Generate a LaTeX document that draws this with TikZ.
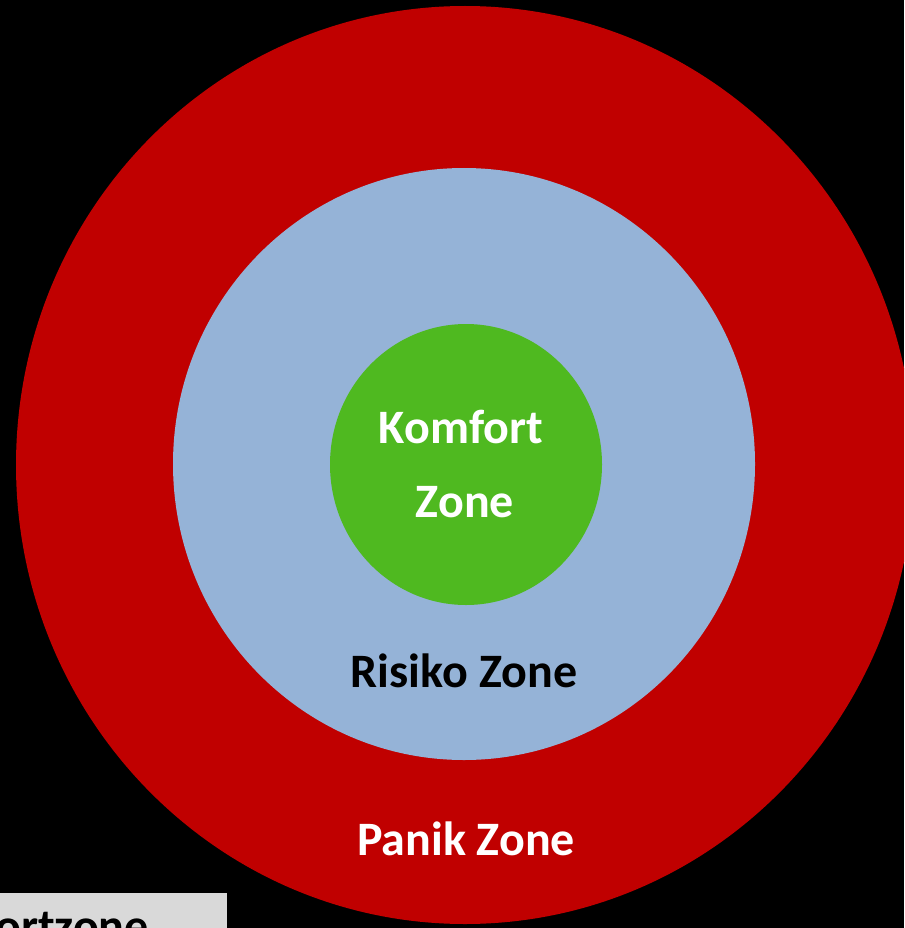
\documentclass[tikz,border=0pt]{standalone}
\usepackage{fontspec}
\setmainfont{Carlito}
\definecolor{panikred}{HTML}{C00000}
\definecolor{risikoblue}{HTML}{95B3D7}
\definecolor{komfortgreen}{HTML}{4FB920}
\definecolor{boxgrey}{HTML}{D9D9D9}
\tikzset{
  zonelabel/.style={font=\bfseries\fontsize{48}{52}\selectfont, inner sep=0pt, anchor=base},
}
\begin{document}
\begin{tikzpicture}[x=1pt,y=-1pt]
\useasboundingbox (0,0) rectangle (904,928);
\clip (0,0) rectangle (904,928);
\fill[black] (0,0) rectangle (904,928);
\fill[panikred] (465,465) ellipse [x radius=449, y radius=459];
\fill[risikoblue] (464,464) ellipse [x radius=291, y radius=296];
\fill[komfortgreen] (466,464.5) ellipse [x radius=136, y radius=140.5];
\node[zonelabel, white] (komfort) at (461,443) {Komfort};
\node[zonelabel, white] (zone) at (465,517) {Zone};
\node[zonelabel, black] (risiko) at (464,687) {Risiko Zone};
\node[zonelabel, white] (panik) at (466,855) {Panik Zone};
\fill[boxgrey] (0,893) rectangle (227,940);
\node[zonelabel, black, anchor=base east] (kz) at (149,942) {Komfortzone};
\end{tikzpicture}
\end{document}
